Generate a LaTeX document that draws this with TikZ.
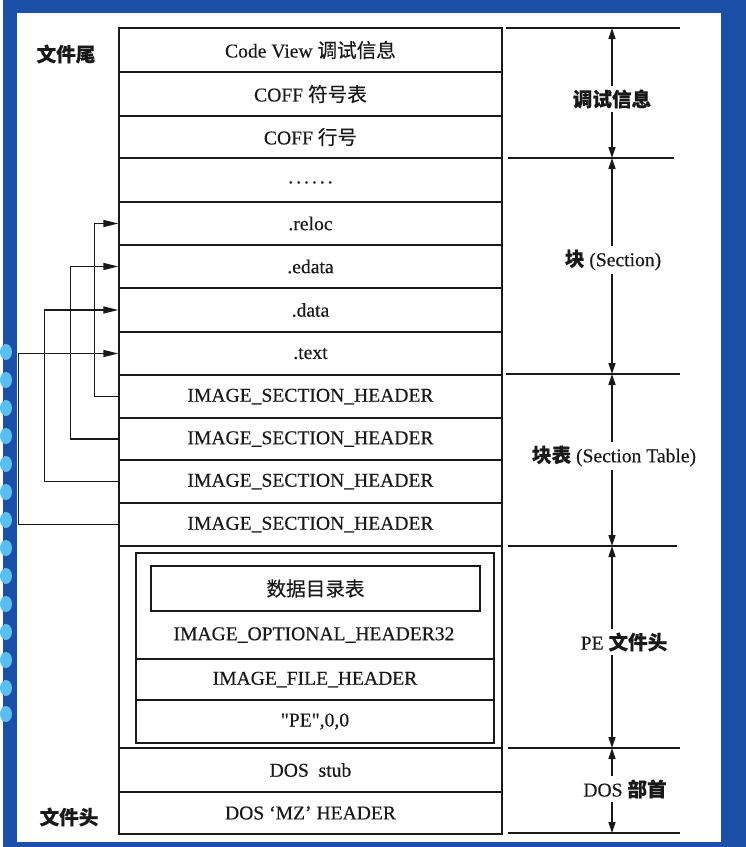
\documentclass[tikz,border=0pt]{standalone}
\usepackage{fontspec}
\setmainfont[FakeBold=0.35]{Liberation Serif}
\newfontfamily\cjk[FakeBold=0.35]{Noto Sans CJK SC}
\usetikzlibrary{arrows.meta}
\definecolor{bgblue}{RGB}{28,80,168}
\definecolor{bgdot}{RGB}{90,190,240}
\definecolor{ink}{RGB}{25,25,25}
\tikzset{
  rowbox/.style={draw=ink, line width=1.5pt, minimum width=383pt, inner sep=0pt, text=ink, font=\fontsize{19.6}{22}\selectfont},
  innerbox/.style={draw=ink, line width=1.5pt, inner sep=0pt, text=ink, font=\fontsize{19.6}{22}\selectfont},
  plain/.style={inner sep=0pt, text=ink, font=\fontsize{19.6}{22}\selectfont},
  sidelabel/.style={inner sep=0pt, text=ink, font=\fontsize{19.6}{22}\selectfont\cjk\bfseries},
  dimlabel/.style={fill=white, inner sep=4pt, text=ink, font=\fontsize{19.6}{22}\selectfont},
  conn/.style={draw=ink, line width=1.5pt, -{Triangle[length=15pt,width=7pt]}},
  dimarr/.style={draw=ink, line width=1.4pt, {Triangle[length=11pt,width=7pt]}-{Triangle[length=11pt,width=7pt]}},
  dimline/.style={draw=ink, line width=1.5pt}
}
\begin{document}
\begin{tikzpicture}[x=1pt,y=-1pt]
% background
\fill[bgblue] (0,0) rectangle (743,847);
\foreach \yy in {352,380,408,436,464,492,520,548,576,604,632,660,688,714}
  \fill[bgdot] (3,\yy) ellipse (6 and 8);
\fill[white] (14,13) rectangle (718,842);
\useasboundingbox (0,0) rectangle (743,847);

% main column rows
\node[rowbox, minimum height=44pt] (cv)    at (307.5,50)    {Code View {\cjk 调试信息}};
\node[rowbox, minimum height=44pt] (sym)   at (307.5,94)    {COFF {\cjk 符号表}};
\node[rowbox, minimum height=42pt] (lno)   at (307.5,137)   {COFF {\cjk 行号}};
\node[rowbox, minimum height=44pt] (dots)  at (307.5,180)   {\raisebox{-7pt}{.\kern3pt.\kern3pt.\kern3pt.\kern3pt.\kern3pt.}};
\node[rowbox, minimum height=43pt] (reloc) at (307.5,223.5) {.reloc};
\node[rowbox, minimum height=43pt] (edata) at (307.5,266.5) {.edata};
\node[rowbox, minimum height=44pt] (data)  at (307.5,310)   {.data};
\node[rowbox, minimum height=43pt] (text)  at (307.5,353.5) {.text};
\node[rowbox, minimum height=43pt] (ish1)  at (307.5,396.5) {IMAGE\_SECTION\_HEADER};
\node[rowbox, minimum height=42pt] (ish2)  at (307.5,439)   {IMAGE\_SECTION\_HEADER};
\node[rowbox, minimum height=43pt] (ish3)  at (307.5,481.5) {IMAGE\_SECTION\_HEADER};
\node[rowbox, minimum height=43pt] (ish4)  at (307.5,524.5) {IMAGE\_SECTION\_HEADER};
\node[rowbox, minimum height=202pt] (pe)   at (307.5,647)   {};
\node[rowbox, minimum height=44pt] (stub)  at (307.5,770)   {DOS\ \ stub};
\node[rowbox, minimum height=42pt] (mz)    at (307.5,813)   {DOS\ ‘MZ’\ HEADER};

% PE header interior
\node[innerbox, minimum width=358pt, minimum height=190pt] (inner) at (312,648) {};
\node[innerbox, minimum width=329pt, minimum height=45pt] (dir) at (312.5,588.5) {\cjk 数据目录表};
\node[plain] (opt) at (311,635) {IMAGE\_OPTIONAL\_HEADER32};
\node[innerbox, minimum width=358pt, minimum height=41pt] (fh) at (312,679.5) {IMAGE\_FILE\_HEADER};
\node[innerbox, minimum width=358pt, minimum height=43pt] (pesig) at (312,721.5) {\textquotedbl PE\textquotedbl,0,0};

% left labels
\node[sidelabel] (tail) at (63,54) {文件尾};
\node[sidelabel] (head) at (66,817) {文件头};

% connectors from section headers to sections
\draw[conn] (ish1.west) -- ++(-24,0) |- (reloc.west);
\draw[conn] (ish2.west) -- ++(-48,0) |- (edata.west);
\draw[conn] (ish3.west) -- ++(-74,0) |- (data.west);
\draw[conn] (ish4.west) -- ++(-100,0) |- (text.west);

% right dimension lines
\coordinate (r0) at (609,28);
\coordinate (r1) at (609,158);
\coordinate (r2) at (609,374);
\coordinate (r3) at (609,546);
\coordinate (r4) at (609,748);
\coordinate (r5) at (609,833);
\draw[dimline] (503,28) -- (677,28);
\draw[dimline] (505,158) -- (671,158);
\draw[dimline] (503,374) -- (677,374);
\draw[dimline] (505,546) -- (674,546);
\draw[dimline] (505,748) -- (677,748);
\draw[dimline] (505,833) -- (677,833);

\draw[dimarr] (r0) -- (r1);
\draw[dimarr] (r1) -- (r2);
\draw[dimarr] (r2) -- (r3);
\draw[dimarr] (r3) -- (r4);
\draw[dimarr] (r4) -- (r5);

\node[dimlabel] (l1) at (609,99)  {\cjk\bfseries 调试信息};
\node[dimlabel] (l2) at (610,260) {{\cjk\bfseries 块} (Section)};
\node[dimlabel] (l3) at (611,456) {{\cjk\bfseries 块表} (Section Table)};
\node[dimlabel] (l4) at (621,642) {PE {\cjk\bfseries 文件头}};
\node[dimlabel] (l5) at (622,789) {DOS {\cjk\bfseries 部首}};
\end{tikzpicture}
\end{document}
